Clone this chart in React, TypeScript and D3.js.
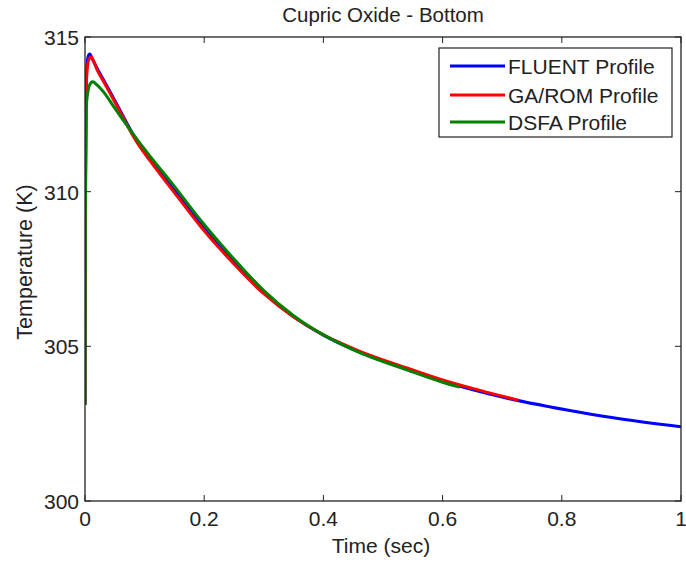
import React from "react";
import * as d3 from "d3";

const fluentT = [0, 0.0005, 0.002, 0.005, 0.008, 0.012, 0.02, 0.03, 0.05, 0.087, 0.109, 0.15, 0.193, 0.25, 0.3, 0.35, 0.4, 0.456, 0.54, 0.6, 0.7, 0.83, 0.9, 1.0];
const fluentV = [303.1, 309.5, 313.6, 314.35, 314.45, 314.3, 314.0, 313.65, 312.95, 311.65, 311.08, 310.08, 309.02, 307.74, 306.74, 305.96, 305.36, 304.85, 304.27, 303.88, 303.36, 302.87, 302.65, 302.4];

const gaT = [0, 0.0005, 0.002, 0.006, 0.01, 0.015, 0.02, 0.03, 0.05, 0.087, 0.109, 0.15, 0.193, 0.25, 0.3, 0.35, 0.4, 0.456, 0.54, 0.6, 0.65, 0.7, 0.727];
const gaV = [303.1, 309.0, 313.4, 314.25, 314.35, 314.2, 313.95, 313.6, 312.9, 311.6, 311.0, 309.97, 308.9, 307.66, 306.7, 305.95, 305.37, 304.88, 304.3, 303.91, 303.64, 303.39, 303.26];

const dsfaT = [0, 0.0005, 0.002, 0.006, 0.01, 0.013, 0.02, 0.03, 0.05, 0.087, 0.109, 0.15, 0.193, 0.25, 0.3, 0.35, 0.4, 0.456, 0.54, 0.6, 0.629];
const dsfaV = [303.1, 309.0, 312.7, 313.35, 313.52, 313.55, 313.45, 313.25, 312.7, 311.7, 311.15, 310.17, 309.1, 307.82, 306.8, 305.99, 305.37, 304.84, 304.24, 303.84, 303.68];

const xTicks = [0, 0.2, 0.4, 0.6, 0.8, 1];
const yTicks = [300, 305, 310, 315];
const seriesNames = ["FLUENT Profile", "GA/ROM Profile", "DSFA Profile"];
const seriesColors = ["#0000ff", "#ff0000", "#008000"];

const W = 686, H = 562;
const M = { left: 85, right: 681, top: 37, bottom: 501 };
const FONT = "'Liberation Sans', Arial, sans-serif";

export default function App() {
  const x = d3.scaleLinear().domain([0, 1]).range([M.left, M.right]);
  const y = d3.scaleLinear().domain([300, 315]).range([M.bottom, M.top]);
  const line = d3
    .line<[number, number]>()
    .x((d) => x(d[0]))
    .y((d) => y(d[1]))
    .curve(d3.curveMonotoneX);

  const series = [
    fluentT.map((t, i) => [t, fluentV[i]] as [number, number]),
    gaT.map((t, i) => [t, gaV[i]] as [number, number]),
    dsfaT.map((t, i) => [t, dsfaV[i]] as [number, number]),
  ];

  const tickLen = 6;
  const legendRows = [66, 95, 122];

  return (
    <svg width={W} height={H} style={{ position: "absolute", left: 0, top: 0, background: "#fff" }} fontFamily={FONT}>
      <rect x={0} y={0} width={W} height={H} fill="#fff" />
      <defs>
        <clipPath id="plotclip">
          <rect x={M.left} y={M.top} width={M.right - M.left} height={M.bottom - M.top} />
        </clipPath>
      </defs>
      <g clipPath="url(#plotclip)">
        {series.map((s, i) => (
          <path key={i} d={line(s) || ""} fill="none" stroke={seriesColors[i]} strokeWidth={3} strokeLinejoin="round" />
        ))}
      </g>
      <rect x={M.left} y={M.top} width={M.right - M.left} height={M.bottom - M.top} fill="none" stroke="#222" strokeWidth={1.3} />
      {xTicks.map((t) => (
        <g key={"x" + t}>
          <line x1={x(t)} x2={x(t)} y1={M.bottom} y2={M.bottom - tickLen} stroke="#222" />
          <line x1={x(t)} x2={x(t)} y1={M.top} y2={M.top + tickLen} stroke="#222" />
          <text x={x(t)} y={526} textAnchor="middle" fontSize={21} fill="#222">
            {String(t)}
          </text>
        </g>
      ))}
      {yTicks.map((t) => (
        <g key={"y" + t}>
          <line x1={M.left} x2={M.left + tickLen} y1={y(t)} y2={y(t)} stroke="#222" />
          <line x1={M.right} x2={M.right - tickLen} y1={y(t)} y2={y(t)} stroke="#222" />
          <text x={79} y={y(t) + 8} textAnchor="end" fontSize={21} fill="#222">
            {String(t)}
          </text>
        </g>
      ))}
      <text x={(M.left + M.right) / 2} y={22} textAnchor="middle" fontSize={20.5} fill="#222">
        Cupric Oxide - Bottom
      </text>
      <text x={(M.left + M.right) / 2 - 2} y={553} textAnchor="middle" fontSize={21} fill="#222">
        Time (sec)
      </text>
      <text transform={`translate(32,262) rotate(-90)`} textAnchor="middle" fontSize={21.5} fill="#222">
        Temperature (K)
      </text>
      <rect x={439} y={48} width={233} height={89} fill="#fff" stroke="#222" strokeWidth={1.2} />
      {seriesNames.map((n, i) => (
        <g key={n}>
          <line x1={450} x2={505} y1={legendRows[i]} y2={legendRows[i]} stroke={seriesColors[i]} strokeWidth={3} />
          <text x={508} y={legendRows[i] + 8} fontSize={21} fill="#222">
            {n}
          </text>
        </g>
      ))}
    </svg>
  );
}
